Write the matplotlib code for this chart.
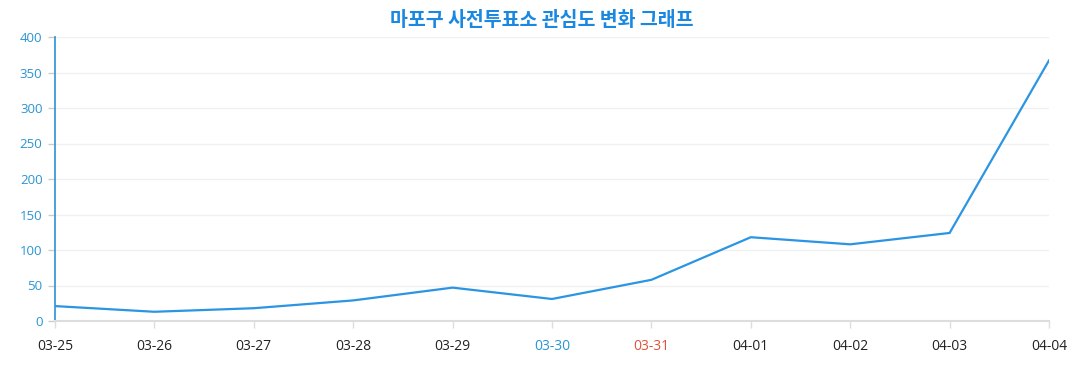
import matplotlib.pyplot as plt

plt.rcParams['font.family'] = ['Open Sans', 'Noto Sans CJK KR', 'DejaVu Sans']

dates = ['03-25', '03-26', '03-27', '03-28', '03-29', '03-30', '03-31',
         '04-01', '04-02', '04-03', '04-04']
interest = [21, 13, 18, 29, 47, 31, 58, 118, 108, 124, 367]
yticks = [0, 50, 100, 150, 200, 250, 300, 350, 400]

fig = plt.figure(figsize=(10.77, 3.90), dpi=100)
ax = fig.add_axes([55 / 1077, 69 / 390, 994 / 1077, 284 / 390])

x = list(range(len(dates)))
ax.plot(x, interest, color='#2b95e3', lw=1.6, solid_joinstyle='miter')

ax.set_xlim(0, len(dates) - 1)
ax.set_ylim(0, 400)
ax.set_yticks(yticks)
ax.set_xticks(x)
ax.set_xticklabels(dates)

for y in yticks[1:]:
    ax.axhline(y, color='#f0f0f0', lw=1, zorder=0)

for s in ['top', 'right']:
    ax.spines[s].set_visible(False)
ax.spines['left'].set_color('#3a9ad9')
ax.spines['left'].set_linewidth(1.3)
ax.spines['bottom'].set_color('#dddddd')
ax.spines['bottom'].set_linewidth(1.5)

ax.tick_params(axis='y', colors='#cccccc', labelcolor='#2a95d0', labelsize=9.5,
               length=5, width=1, pad=4)
ax.tick_params(axis='x', colors='#dddddd', labelcolor='#222222', labelsize=10,
               length=5, width=1, pad=8)

labels = ax.get_xticklabels()
labels[5].set_color('#2a95d0')
labels[6].set_color('#e0533a')

fig.text(542 / 1077, 1 - 20 / 390, '마포구 사전투표소 관심도 변화 그래프',
         ha='center', va='center', fontsize=14, fontweight='bold',
         color='#1a87e0', family=['Noto Sans CJK KR', 'DejaVu Sans'])

fig.savefig('out.png', dpi=100)
